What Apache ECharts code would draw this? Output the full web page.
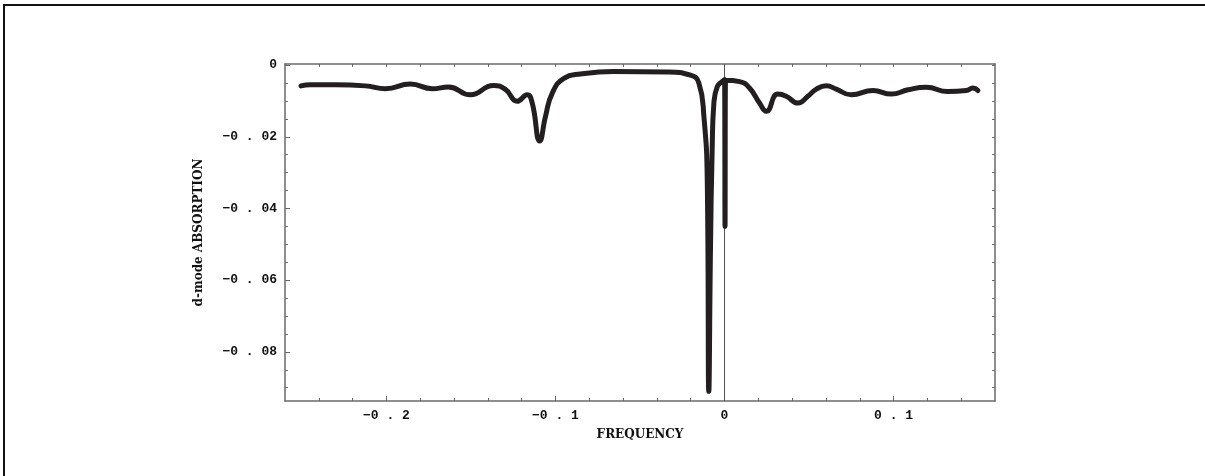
<!DOCTYPE html>
<html>
<head>
<meta charset="utf-8">
<style>
  html, body { margin: 0; padding: 0; background: #fff; }
  #chart { width: 1205px; height: 476px; }
</style>
<script src="https://cdn.jsdelivr.net/npm/echarts@6/dist/echarts.min.js"></script>
</head>
<body>
<div id="chart"></div>
<script>
  const frequency = [
    -0.2505, -0.245, -0.230, -0.2124, -0.2006, -0.1858, -0.1728, -0.1633, -0.1503, -0.1367,
    -0.1296, -0.1227, -0.1167, -0.1138, -0.1093, -0.1059, -0.1019, -0.095, -0.0852, -0.0657,
    -0.0339, -0.0201, -0.0152, -0.0122, -0.0102, -0.0093, -0.0083, -0.0073, -0.0063, -0.0043,
    -0.0014, 0.0, 0.0003, 0.0006, 0.0089, 0.0148, 0.0207, 0.0247, 0.0315, 0.0365,
    0.0434, 0.0493, 0.0543, 0.0602, 0.0661, 0.075, 0.0878, 0.0987, 0.1085, 0.1194,
    0.1321, 0.1430, 0.1469, 0.1499,
  ];
  const absorption = [
    -0.0058, -0.0055, -0.0055, -0.0058, -0.0066, -0.0053, -0.0066, -0.0061, -0.0083, -0.0057,
    -0.0068, -0.0101, -0.0083, -0.0105, -0.0212, -0.0143, -0.0078, -0.0037, -0.0025, -0.0018,
    -0.0019, -0.0028, -0.0050, -0.0143, -0.0326, -0.0910, -0.0510, -0.0234, -0.0106, -0.0060,
    -0.0046, -0.0040, -0.0450, -0.0042, -0.0046, -0.0064, -0.0106, -0.0129, -0.0081, -0.0087,
    -0.0106, -0.0087, -0.0067, -0.0058, -0.0067, -0.0083, -0.0071, -0.0081, -0.0069, -0.0062,
    -0.0074, -0.0071, -0.0064, -0.0071,
  ];
  const xMajorTicks = [-0.2, -0.1, 0, 0.1];
  const xMinorTicks = [-0.24, -0.22, -0.18, -0.16, -0.14, -0.12, -0.08, -0.06, -0.04, -0.02, 0.02, 0.04, 0.06, 0.08, 0.12, 0.14];
  const yMajorTicks = [0, -0.02, -0.04, -0.06, -0.08];
  const yMinorTicks = [-0.005, -0.01, -0.015, -0.025, -0.03, -0.035, -0.045, -0.05, -0.055, -0.065, -0.07, -0.075, -0.085, -0.09];

  // Mathematica style labels: "−0 . 02"
  const spaced = (value) => {
    if (value === 0) return '0';
    const s = String(Math.abs(Math.round(value * 1000) / 1000)).replace('.', ' . ');
    return (value < 0 ? '\u2212' : '') + s;
  };

  const axisColor = '#6a6a6a';
  const labelFont = { color: '#111', fontFamily: 'Liberation Mono', fontWeight: 'bold', fontSize: 13 };
  const titleFont = { color: '#111', fontFamily: 'DejaVu Serif', fontWeight: 'bold', fontSize: 12 };
  const tickLine = { color: axisColor, width: 1 };
  const frameLine = { show: true, onZero: false, lineStyle: { color: axisColor, width: 1.5 } };
  const noLine = { show: false, onZero: false };

  const xBase = { type: 'value', min: -0.26, max: 0.16, splitLine: { show: false } };
  const yBase = { type: 'value', min: -0.0937, max: 0.0003, splitLine: { show: false } };

  const chart = echarts.init(document.getElementById('chart'), null, { renderer: 'canvas' });
  chart.setOption({
    animation: false,
    grid: { left: 285, top: 64, width: 710, height: 337 },
    xAxis: [
      {
        ...xBase, position: 'bottom',
        name: 'FREQUENCY', nameLocation: 'middle', nameGap: 28, nameTextStyle: titleFont,
        axisLine: frameLine,
        axisTick: { inside: true, length: 5, lineStyle: tickLine, customValues: xMajorTicks },
        axisLabel: { ...labelFont, margin: 8, customValues: xMajorTicks, formatter: spaced },
      },
      {
        ...xBase, position: 'bottom',
        axisLine: noLine,
        axisTick: { inside: true, length: 3, lineStyle: tickLine, customValues: xMinorTicks },
        axisLabel: { show: false },
      },
      {
        ...xBase, position: 'top',
        axisLine: frameLine,
        axisTick: { inside: true, length: 3, lineStyle: tickLine, customValues: xMajorTicks.concat(xMinorTicks) },
        axisLabel: { show: false },
      },
    ],
    yAxis: [
      {
        ...yBase, position: 'left',
        name: 'd-mode ABSORPTION', nameLocation: 'middle', nameGap: 80, nameTextStyle: titleFont,
        axisLine: frameLine,
        axisTick: { inside: true, length: 5, lineStyle: tickLine, customValues: yMajorTicks },
        axisLabel: { ...labelFont, margin: 8, customValues: yMajorTicks, formatter: spaced },
      },
      {
        ...yBase, position: 'left',
        axisLine: noLine,
        axisTick: { inside: true, length: 3, lineStyle: tickLine, customValues: yMinorTicks },
        axisLabel: { show: false },
      },
      {
        ...yBase, position: 'right',
        axisLine: frameLine,
        axisTick: { inside: true, length: 3, lineStyle: tickLine, customValues: yMajorTicks.concat(yMinorTicks) },
        axisLabel: { show: false },
      },
    ],
    graphic: [
      {
        type: 'polyline', silent: true,
        shape: { points: [[4, 476], [4, 5], [1205, 5]] },
        style: { stroke: '#111', lineWidth: 2, fill: null },
      },
    ],
    series: [
      {
        type: 'line',
        xAxisIndex: 0, yAxisIndex: 0,
        showSymbol: false,
        smooth: 0.5,
        lineStyle: { color: '#231f20', width: 5, cap: 'round', join: 'round' },
        data: frequency.map((f, i) => [f, absorption[i]]),
        markLine: {
          silent: true, symbol: 'none', label: { show: false },
          lineStyle: { color: '#555', width: 1, type: 'solid' },
          data: [{ xAxis: 0 }],
          z: 1,
        },
        z: 3,
      },
    ],
  });
</script>
</body>
</html>
